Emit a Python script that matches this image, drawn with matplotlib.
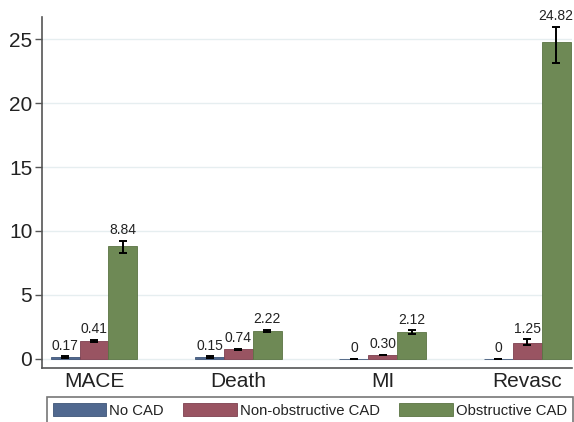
import numpy as np
import matplotlib
matplotlib.use("Agg")
import matplotlib.pyplot as plt

plt.rcParams['font.family'] = ['Liberation Sans', 'DejaVu Sans']

categories = ['MACE', 'Death', 'MI', 'Revasc']
groups = ['No CAD', 'Non-obstructive CAD', 'Obstructive CAD']

# bar heights as drawn, and the printed labels
no_cad = [0.12, 0.12, 0.0, 0.0]
non_obstr = [1.38, 0.72, 0.27, 1.25]
obstr = [8.84, 2.18, 2.08, 24.82]

no_cad_lbl = ['0.17', '0.15', '0', '0']
non_obstr_lbl = ['0.41', '0.74', '0.30', '1.25']
obstr_lbl = ['8.84', '2.22', '2.12', '24.82']

no_cad_err = [[0.08, 0.05, 0.0, 0.0], [0.08, 0.05, 0.0, 0.0]]
non_obstr_err = [[0.08, 0.06, 0.03, 0.22], [0.08, 0.06, 0.03, 0.28]]
obstr_err = [[0.6, 0.07, 0.15, 1.65], [0.4, 0.07, 0.15, 1.15]]

colors = ['#50688f', '#995462', '#6e8955']
edges = ['#3e5578', '#7e4050', '#5a7443']

fig = plt.figure(figsize=(5.74, 4.22), dpi=100)
ax = fig.add_axes([42 / 574, 1 - 368 / 422, 530 / 574, 351 / 422])

x = np.arange(len(categories))
w = 0.2
series = [(no_cad, no_cad_lbl, no_cad_err), (non_obstr, non_obstr_lbl, non_obstr_err),
          (obstr, obstr_lbl, obstr_err)]

for i, (vals, lbls, err) in enumerate(series):
    xpos = x + (i - 1) * w
    ax.bar(xpos, vals, width=w, color=colors[i], edgecolor=edges[i], linewidth=0.6,
           label=groups[i], zorder=2)
    ax.errorbar(xpos, vals, yerr=err, fmt='none', ecolor='black', elinewidth=1.4,
                capsize=2.8, capthick=1.4, zorder=3)
    for xp, v, up, t in zip(xpos, vals, err[1], lbls):
        ax.annotate(t, (xp, v + up), xytext=(0, 2.5), textcoords='offset points',
                    ha='center', va='bottom', fontsize=10, color='#222222')

ax.set_xlim(-0.36, 3.31)
ax.set_ylim(-0.74, 26.75)
ax.set_yticks([0, 5, 10, 15, 20, 25])
ax.set_xticks(x)
ax.set_xticklabels(categories, fontsize=15, color='#222222')
ax.tick_params(axis='y', labelsize=15, labelcolor='#222222', length=5, width=1,
               color='#555555', pad=2)
ax.tick_params(axis='x', length=0, pad=3)
ax.yaxis.grid(True, color='#e6eef0', linewidth=1, zorder=0)
ax.set_axisbelow(True)
for s in ['top', 'right']:
    ax.spines[s].set_visible(False)
for s in ['left', 'bottom']:
    ax.spines[s].set_color('#555555')
    ax.spines[s].set_linewidth(1.2)

leg = fig.legend(loc='upper left', bbox_to_anchor=(47 / 574, 1 - 397 / 422), ncol=3,
                 fontsize=10.7, frameon=True, fancybox=False, handlelength=3.6,
                 handleheight=1.0, handletextpad=0.2, columnspacing=1.3,
                 borderpad=0.4, borderaxespad=0)
leg.get_frame().set_edgecolor('#555555')
leg.get_frame().set_linewidth(1.2)
for t in leg.get_texts():
    t.set_color('#222222')

fig.savefig('out.png', dpi=100)
